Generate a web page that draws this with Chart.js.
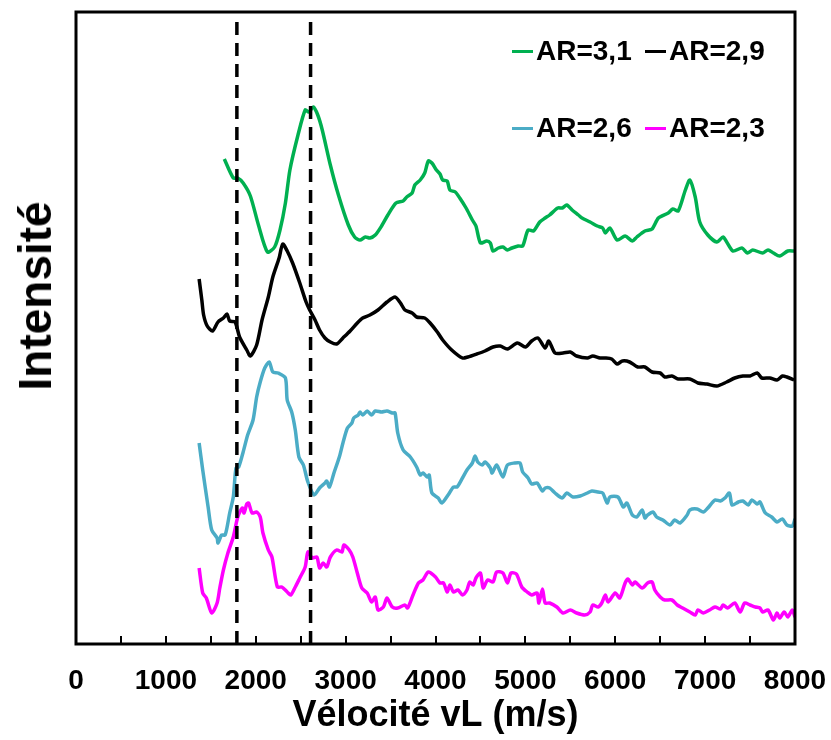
<!DOCTYPE html>
<html>
<head>
<meta charset="utf-8">
<script src="https://cdn.jsdelivr.net/npm/chart.js@4"></script>
<style>
body{margin:0;background:#fff}
#wrap{position:relative;width:831px;height:740px}
.key{position:absolute;display:flex;align-items:center;height:34px;font:bold 28px "Liberation Sans",Arial,sans-serif;color:#000;white-space:nowrap}
.key span{display:inline-block;width:21px;height:3px;margin-right:3px}
#ytitle{position:absolute;left:35px;top:296px;transform:translate(-50%,-50%) rotate(-90deg);font:bold 46px "Liberation Sans",Arial,sans-serif;color:#000;white-space:nowrap;line-height:1}
</style>
</head>
<body>
<div id="wrap"><canvas id="c" width="831" height="740"></canvas><div id="ytitle">Intensité</div></div>
<script>
// [velocity m/s, intensity a.u.]
var ar31 = [[1650,485],[1750,466],[1800,466],[1860,461],[1940,448],[2030,419],[2130,392],[2210,397],[2270,414],[2330,441],[2380,474],[2470,509],[2550,534],[2590,532],[2640,537],[2690,529],[2740,514],[2830,479],[2920,449],[3030,419],[3100,407],[3160,404],[3220,407],[3270,406],[3330,409],[3400,418],[3470,429],[3560,441],[3640,443],[3680,447],[3740,451],[3770,459],[3830,464],[3880,471],[3920,483],[3960,481],[4010,474],[4050,470],[4080,464],[4130,463],[4160,454],[4220,452],[4270,446],[4340,436],[4410,424],[4450,418],[4500,401],[4570,403],[4610,401],[4640,393],[4700,396],[4750,397],[4800,394],[4850,396],[4920,398],[4970,398],[5030,414],[5090,413],[5160,422],[5220,426],[5270,429],[5360,436],[5410,436],[5460,439],[5520,434],[5590,429],[5630,426],[5720,422],[5800,418],[5860,416],[5890,411],[5940,416],[6020,404],[6110,408],[6190,403],[6240,407],[6330,413],[6410,415],[6480,426],[6590,431],[6640,435],[6700,433],[6780,454],[6830,464],[6890,447],[6940,422],[7030,409],[7130,402],[7200,407],[7240,402],[7310,393],[7410,396],[7470,391],[7530,394],[7640,391],[7700,394],[7760,391],[7830,388],[7920,393],[7990,393]];
var ar29 = [[1370,365],[1400,344],[1420,329],[1460,318],[1520,313],[1580,322],[1640,326],[1680,330],[1710,323],[1770,322],[1820,307],[1900,294],[1940,288],[2010,299],[2070,324],[2140,347],[2190,367],[2260,386],[2300,400],[2350,393],[2410,381],[2490,361],[2560,342],[2600,334],[2660,324],[2710,314],[2770,306],[2830,302],[2900,300],[2970,306],[3050,313],[3130,321],[3190,326],[3270,329],[3360,334],[3460,342],[3550,347],[3610,341],[3660,334],[3740,331],[3790,327],[3880,326],[3940,321],[4020,312],[4080,304],[4180,294],[4300,286],[4360,287],[4460,290],[4550,293],[4640,297],[4720,298],[4800,295],[4910,301],[5000,297],[5070,303],[5140,306],[5220,296],[5260,303],[5330,291],[5420,291],[5500,292],[5570,288],[5690,286],[5750,288],[5830,286],[5890,286],[5960,285],[6020,280],[6080,283],[6160,282],[6250,277],[6330,277],[6410,272],[6500,271],[6550,267],[6630,268],[6700,265],[6830,265],[6920,261],[7020,260],[7130,258],[7240,262],[7330,266],[7420,268],[7500,268],[7580,271],[7630,266],[7720,266],[7800,264],[7860,268],[7910,267],[7990,264]];
var ar26 = [[1370,201],[1410,174],[1470,137],[1510,114],[1570,106],[1580,101],[1620,109],[1660,109],[1710,131],[1750,147],[1780,176],[1810,177],[1860,192],[1910,209],[1970,224],[2010,247],[2050,262],[2100,276],[2150,282],[2190,272],[2250,271],[2330,266],[2350,244],[2400,232],[2440,214],[2480,187],[2530,179],[2580,162],[2650,149],[2710,156],[2770,161],[2790,163],[2820,157],[2870,171],[2930,187],[2970,201],[3020,216],[3070,221],[3090,226],[3140,229],[3160,232],[3190,229],[3240,233],[3290,229],[3330,233],[3400,232],[3460,233],[3520,231],[3550,231],[3580,211],[3640,194],[3720,187],[3790,177],[3830,169],[3860,171],[3910,167],[3930,169],[3960,151],[4030,146],[4070,141],[4140,149],[4200,157],[4240,157],[4300,166],[4350,174],[4410,181],[4440,188],[4470,182],[4520,179],[4550,182],[4610,176],[4630,171],[4680,179],[4750,167],[4800,179],[4880,181],[4940,181],[4970,172],[5030,166],[5070,160],[5130,161],[5190,153],[5220,156],[5270,156],[5330,151],[5410,146],[5460,151],[5530,147],[5610,148],[5690,151],[5740,153],[5810,152],[5860,151],[5910,141],[5940,147],[6030,147],[6090,137],[6130,141],[6190,129],[6240,127],[6300,134],[6330,126],[6360,129],[6420,132],[6460,127],[6530,124],[6610,119],[6660,124],[6720,121],[6800,129],[6830,134],[6910,135],[6980,132],[7030,136],[7110,144],[7170,143],[7220,146],[7270,151],[7300,139],[7370,142],[7420,143],[7480,139],[7520,144],[7580,140],[7610,142],[7670,131],[7740,127],[7800,122],[7860,125],[7910,119],[7970,118],[8000,125]];
var ar23 = [[1370,76],[1410,51],[1450,46],[1510,31],[1570,41],[1600,56],[1640,74],[1690,91],[1750,107],[1800,127],[1850,136],[1870,131],[1900,140],[1920,141],[1960,131],[2010,132],[2050,127],[2080,111],[2140,94],[2180,87],[2240,57],[2290,57],[2350,52],[2390,49],[2440,57],[2490,66],[2550,77],[2580,92],[2630,86],[2680,87],[2710,76],[2750,81],[2790,77],[2830,87],[2900,94],[2960,92],[2980,99],[3040,94],[3080,87],[3130,71],[3180,56],[3240,51],[3290,42],[3330,47],[3360,34],[3420,37],[3460,46],[3520,37],[3580,36],[3660,39],[3690,36],[3750,49],[3810,61],[3860,64],[3920,72],[4000,67],[4050,61],[4090,61],[4130,52],[4160,59],[4200,52],[4250,54],[4300,49],[4350,54],[4380,62],[4420,59],[4450,66],[4500,71],[4530,56],[4580,64],[4640,62],[4680,72],[4750,71],[4800,61],[4840,71],[4900,70],[4960,57],[5020,52],[5070,49],[5130,51],[5150,41],[5190,55],[5220,41],[5270,41],[5350,37],[5420,31],[5500,34],[5570,31],[5660,29],[5720,32],[5750,39],[5810,37],[5850,41],[5890,49],[5920,42],[6000,51],[6050,46],[6110,61],[6140,65],[6190,59],[6220,62],[6300,56],[6360,61],[6410,62],[6440,54],[6500,47],[6550,44],[6630,44],[6690,39],[6750,36],[6830,32],[6890,29],[6920,34],[6980,31],[7050,34],[7110,37],[7170,35],[7200,39],[7250,36],[7330,41],[7390,32],[7440,41],[7500,39],[7560,37],[7610,36],[7640,32],[7700,34],[7760,24],[7800,31],[7830,26],[7880,32],[7920,27],[7970,34],[8000,27]];

var seriesLabels = ['AR=3,1', 'AR=2,9', 'AR=2,6', 'AR=2,3'];
var seriesColors = ['#00B050', '#000000', '#4BACC6', '#FF00FF'];
var seriesData = [ar31, ar29, ar26, ar23];
var markerVel = [1790, 2610]; // dashed reference lines
var markerTop = 622;

Chart.defaults.font.family = '"Liberation Sans", Arial, sans-serif';
Chart.defaults.color = '#000';

var datasets = [];
markerVel.forEach(function(v) {
  datasets.push({
    label: '',
    data: [{x: v, y: 0}, {x: v, y: markerTop}],
    borderColor: '#000',
    borderWidth: 3.5,
    borderDash: [13, 8],
    pointRadius: 0
  });
});
seriesData.forEach(function(s, i) {
  datasets.push({
    label: seriesLabels[i],
    data: s.map(function(p) { return {x: p[0], y: p[1]}; }),
    borderColor: seriesColors[i],
    borderWidth: 3.5,
    pointRadius: 0,
    tension: 0.25
  });
});

// inward tick marks + box frame
var frame = {
  id: 'frame',
  afterDatasetsDraw: function(chart) {
    var a = chart.chartArea, ctx = chart.ctx, xs = chart.scales.x;
    ctx.save();
    ctx.strokeStyle = '#000';
    ctx.lineWidth = 2;
    xs.ticks.forEach(function(t) {
      var px = Math.round(xs.getPixelForValue(t.value));
      ctx.beginPath();
      ctx.moveTo(px, a.bottom);
      ctx.lineTo(px, a.bottom - 8);
      ctx.stroke();
    });
    ctx.lineWidth = 3;
    ctx.strokeRect(a.left, a.top, a.right - a.left, a.bottom - a.top);
    ctx.restore();
  }
};

new Chart(document.getElementById('c'), {
  type: 'line',
  data: {datasets: datasets},
  options: {
    responsive: false,
    animation: false,
    layout: {padding: {top: 12, right: 36, left: 0, bottom: 0}},
    plugins: {legend: {display: false}, tooltip: {enabled: false}},
    scales: {
      x: {
        type: 'linear',
        min: 0,
        max: 8000,
        grid: {display: false, drawTicks: false},
        border: {display: false},
        afterFit: function(s) { s.height = 96; s.paddingLeft = 0; s.paddingRight = 0; },
        ticks: {
          stepSize: 500,
          autoSkip: false,
          maxRotation: 0,
          padding: 20,
          font: {size: 28, weight: 'bold'},
          callback: function(v) { return v % 1000 === 0 ? String(v) : ''; }
        },
        title: {
          display: true,
          text: 'Vélocité vL (m/s)',
          font: {size: 36, weight: 'bold'},
          padding: {top: 0, bottom: 2}
        }
      },
      y: {
        min: 0,
        max: 632,
        grid: {display: false, drawTicks: false},
        border: {display: false},
        afterFit: function(s) { s.width = 76; },
        ticks: {display: false},
        title: {display: false}
      }
    }
  },
  plugins: [frame]
});

// legend, two rows as in the figure
var keyPos = [[512, 34], [645, 34], [512, 111], [645, 111]];
var wrap = document.getElementById('wrap');
seriesLabels.forEach(function(lab, i) {
  var d = document.createElement('div');
  d.className = 'key';
  d.style.left = keyPos[i][0] + 'px';
  d.style.top = keyPos[i][1] + 'px';
  var sw = document.createElement('span');
  sw.style.background = seriesColors[i];
  d.appendChild(sw);
  d.appendChild(document.createTextNode(lab));
  wrap.appendChild(d);
});
</script>
</body>
</html>
